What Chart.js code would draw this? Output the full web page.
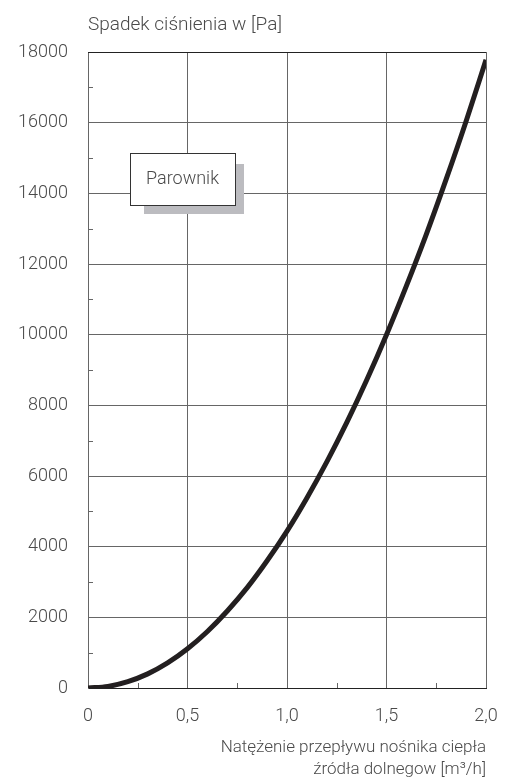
<!DOCTYPE html>
<html>
<head>
<meta charset="utf-8">
<script src="https://cdn.jsdelivr.net/npm/chart.js@4.4.1/dist/chart.umd.min.js"></script>
<style>
  html, body { margin: 0; padding: 0; background: #fff; }
  #wrap { width: 505px; height: 778px; position: relative; }
</style>
</head>
<body>
<div id="wrap"><canvas id="chart"></canvas></div>
<script>
// flow rate [m3/h] and pressure drop [Pa]
const flow = [0, 0.1, 0.2, 0.3, 0.4, 0.5, 0.6, 0.7, 0.8, 0.9, 1.0, 1.1, 1.2, 1.3, 1.4, 1.5, 1.6, 1.7, 1.8, 1.9, 2.0];
const pressure = [0, 45, 180, 400, 710, 1110, 1600, 2180, 2840, 3600, 4440, 5380, 6400, 7510, 8710, 10000, 11380, 12840, 14400, 16040, 17780];
const yTitle = 'Spadek ciśnienia w [Pa]';
const xTitle = ['Natężenie przepływu nośnika ciepła', 'źródła dolnegow [m³/h]'];
const boxLabel = 'Parownik';

const fontFamily = 'Roboto, "Liberation Sans", sans-serif';
const textColor = '#4a4a4a';
const gridColor = '#666';

const extras = {
    id: 'extras',
    afterDraw(chart) {
        const { ctx, chartArea, scales } = chart;
        const x = scales.x, y = scales.y;
        ctx.save();
        // minor ticks, inward
        ctx.strokeStyle = gridColor;
        ctx.lineWidth = 1;
        for (let v = 1000; v < 18000; v += 2000) {
            const py = Math.round(y.getPixelForValue(v)) + 0.5;
            ctx.beginPath();
            ctx.moveTo(chartArea.left, py);
            ctx.lineTo(chartArea.left + 5, py);
            ctx.stroke();
        }
        for (let v = 0.25; v < 2; v += 0.5) {
            const px = Math.round(x.getPixelForValue(v)) + 0.5;
            ctx.beginPath();
            ctx.moveTo(px, chartArea.bottom);
            ctx.lineTo(px, chartArea.bottom - 5);
            ctx.stroke();
        }
        // top border
        ctx.strokeStyle = '#222';
        ctx.beginPath();
        ctx.moveTo(chartArea.left, chartArea.top + 0.5);
        ctx.lineTo(chartArea.right, chartArea.top + 0.5);
        ctx.stroke();

        // y axis title
        ctx.fillStyle = textColor;
        ctx.font = '300 19px ' + fontFamily;
        ctx.textAlign = 'left';
        ctx.textBaseline = 'alphabetic';
        ctx.fillText(yTitle, chartArea.left, 30);

        // label box with shadow
        const bx = Math.round(x.getPixelForValue(0.211));
        const by = Math.round(y.getPixelForValue(15140));
        const bw = 105, bh = 52;
        ctx.fillStyle = '#bcbcc0';
        ctx.fillRect(bx + 14, by + 11, bw - 5, bh - 2);
        ctx.fillStyle = '#fff';
        ctx.fillRect(bx, by, bw, bh);
        ctx.strokeStyle = '#333';
        ctx.strokeRect(bx + 0.5, by + 0.5, bw, bh);
        ctx.fillStyle = textColor;
        ctx.font = '300 18px ' + fontFamily;
        ctx.textAlign = 'center';
        ctx.textBaseline = 'middle';
        ctx.fillText(boxLabel, bx + bw / 2, by + bh / 2);
        ctx.restore();
    }
};

new Chart(document.getElementById('chart'), {
    type: 'line',
    data: {
        datasets: [{
            data: flow.map((f, i) => ({ x: f, y: pressure[i] })),
            borderColor: '#231f20',
            borderWidth: 5,
            pointRadius: 0,
            cubicInterpolationMode: 'monotone',
            fill: false
        }]
    },
    options: {
        responsive: true,
        maintainAspectRatio: false,
        animation: false,
        layout: { padding: { left: 0, right: 19, top: 52, bottom: 0 } },
        plugins: {
            legend: { display: false },
            tooltip: { enabled: false }
        },
        scales: {
            x: {
                type: 'linear',
                min: 0,
                max: 2,
                border: { color: '#222', width: 1 },
                grid: { color: gridColor, drawTicks: false },
                afterFit(scale) {
                    scale.height = 90;
                    scale.paddingLeft = 0;
                    scale.paddingRight = 0;
                },
                ticks: {
                    stepSize: 0.5,
                    padding: 18,
                    color: textColor,
                    font: { family: fontFamily, size: 18, weight: '300' },
                    callback: v => v === 0 ? '0' : v.toFixed(1).replace('.', ',')
                },
                title: {
                    display: true,
                    text: xTitle,
                    align: 'end',
                    color: textColor,
                    font: { family: fontFamily, size: 17, weight: '300', lineHeight: 1.3 },
                    padding: { top: 0, bottom: -3 }
                }
            },
            y: {
                min: 0,
                max: 18000,
                border: { color: gridColor, width: 1 },
                grid: { color: gridColor, drawTicks: false },
                afterFit(scale) {
                    scale.width = 88;
                    scale.paddingTop = 0;
                    scale.paddingBottom = 0;
                },
                ticks: {
                    stepSize: 2000,
                    padding: 20,
                    color: textColor,
                    font: { family: fontFamily, size: 18, weight: '300' },
                    callback: v => String(v)
                }
            }
        }
    },
    plugins: [extras]
});
</script>
</body>
</html>
